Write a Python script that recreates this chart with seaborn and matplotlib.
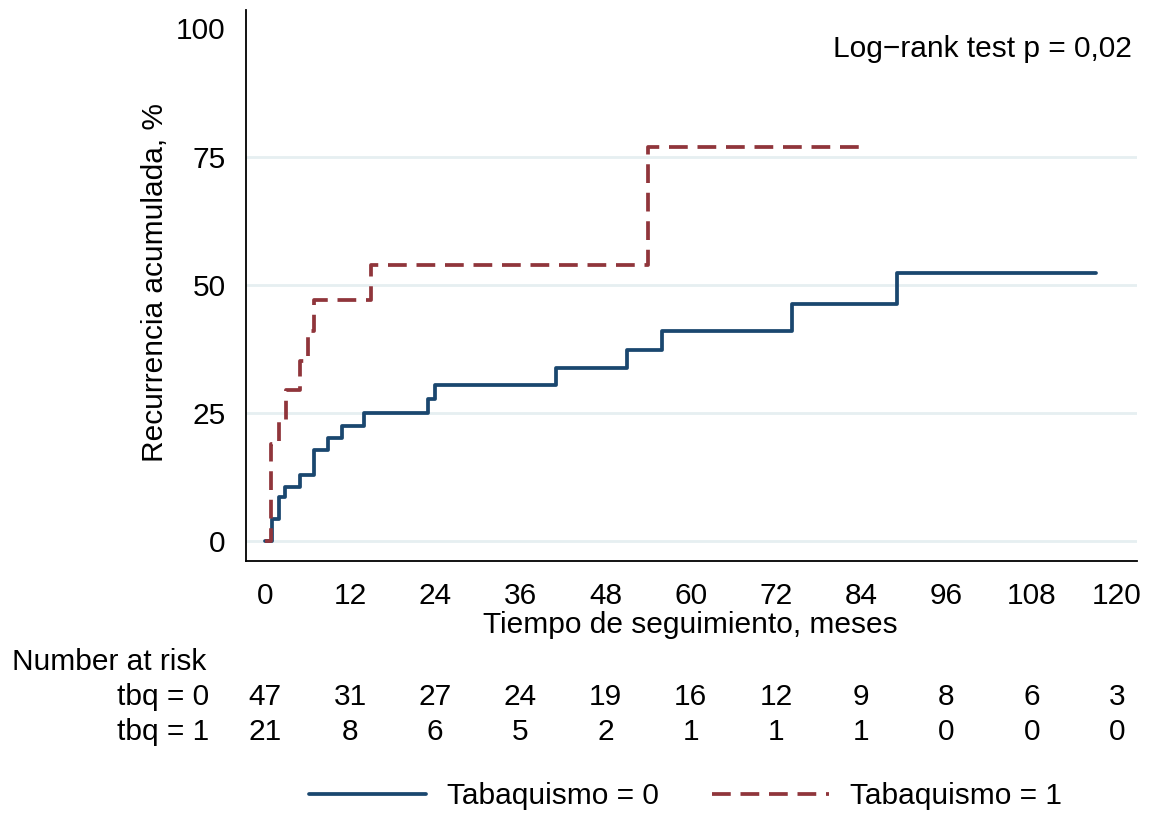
import numpy as np
import pandas as pd
import matplotlib
matplotlib.use("Agg")
import matplotlib.pyplot as plt
import matplotlib.transforms as mtransforms
import seaborn as sns

# Kaplan-Meier cumulative recurrence (1 - S(t)), in %, by smoking status
t_tbq0 = [0, 1.0, 2.0, 2.9, 5.0, 6.9, 8.9, 10.8, 13.9, 23.0, 23.9, 41.0, 51.0, 56.0, 74.2, 89.0, 117.1]
y_tbq0 = [0, 4.3, 8.5, 10.6, 12.8, 17.7, 20.1, 22.5, 25.0, 27.8, 30.4, 33.7, 37.2, 40.9, 46.3, 52.2, 52.2]
t_tbq1 = [0, 0.9, 2.0, 3.0, 4.9, 6.1, 6.9, 14.9, 54.0, 84.9]
y_tbq1 = [0, 19.0, 23.7, 29.4, 35.1, 41.0, 47.1, 53.8, 76.9, 76.9]

group_labels = ["Tabaquismo = 0", "Tabaquismo = 1"]
risk_times = [0, 12, 24, 36, 48, 60, 72, 84, 96, 108, 120]
risk_tbq0 = [47, 31, 27, 24, 19, 16, 12, 9, 8, 6, 3]
risk_tbq1 = [21, 8, 6, 5, 2, 1, 1, 1, 0, 0, 0]
risk_row_labels = ["tbq = 0", "tbq = 1"]
y_ticks = [0, 25, 50, 75, 100]

df = pd.concat([
    pd.DataFrame({"t": t_tbq0, "pct": y_tbq0, "grupo": group_labels[0]}),
    pd.DataFrame({"t": t_tbq1, "pct": y_tbq1, "grupo": group_labels[1]}),
], ignore_index=True)

sns.set_theme(style="white")
plt.rcParams["font.family"] = ["Liberation Sans", "DejaVu Sans"]
plt.rcParams["text.color"] = "black"
FS = 21.5

navy = "#1a476f"
maroon = "#90353b"

fig = plt.figure(figsize=(11.53, 8.15), dpi=100)
ax = fig.add_axes([0.2131, 0.3117, 0.9859 - 0.2131, 0.9877 - 0.3117])

sns.lineplot(
    data=df, x="t", y="pct", hue="grupo", style="grupo",
    palette={group_labels[0]: navy, group_labels[1]: maroon},
    dashes={group_labels[0]: "", group_labels[1]: (5.0, 2.6)},
    estimator=None, sort=False, drawstyle="steps-post",
    linewidth=2.7, ax=ax, legend=True,
)

ax.set_xlim(-2.7, 122.8)
ax.set_ylim(-3.9, 103.6)
ax.set_xticks(risk_times)
ax.set_yticks(y_ticks)
ax.set_xlabel("")
ax.set_ylabel("")
ax.tick_params(axis="both", which="major", direction="out", length=9, width=1.2,
               color="black", labelsize=FS, labelcolor="black", pad=6)
ax.tick_params(axis="x", pad=6.5)
ax.tick_params(axis="y", pad=5.5)
for side in ["top", "right"]:
    ax.spines[side].set_visible(False)
for side in ["left", "bottom"]:
    ax.spines[side].set_color("black")
    ax.spines[side].set_linewidth(1.3)

ax.yaxis.grid(True, color="#e6eff1", linewidth=2.0)
ax.xaxis.grid(False)
ax.set_axisbelow(True)
ax.get_ygridlines()[-1].set_visible(False)

ax.text(0.994, 0.93, "Log\u2212rank test p = 0,02", transform=ax.transAxes,
        ha="right", va="center", fontsize=FS, color="black")

fig.text(155 / 1153, 1 - 282 / 815, "Recurrencia acumulada, %", rotation=90,
         ha="center", va="center", fontsize=FS, color="black")
fig.text(690 / 1153, 1 - 625 / 815, "Tiempo de seguimiento, meses",
         ha="center", va="center", fontsize=FS, color="black")

# Number-at-risk table under the axis
trans = mtransforms.blended_transform_factory(ax.transData, fig.transFigure)
fig.text(12 / 1153, 1 - 662 / 815, "Number at risk", ha="left", va="center",
         fontsize=FS, color="black")
for row, (lab, counts) in enumerate(zip(risk_row_labels, [risk_tbq0, risk_tbq1])):
    yf = 1 - (697 + 35 * row) / 815
    fig.text(209 / 1153, yf, lab, ha="right", va="center", fontsize=FS, color="black")
    for tt, n in zip(risk_times, counts):
        ax.text(tt, yf, str(n), transform=trans, ha="center", va="center", fontsize=FS,
                color="black", clip_on=False)

handles, labels = ax.get_legend_handles_labels()
ax.get_legend().remove()
leg = fig.legend(handles, labels, loc="center", bbox_to_anchor=(0.5945, 1 - 796 / 815),
                 ncol=2, frameon=False, fontsize=FS, handlelength=3.9, handletextpad=0.7,
                 columnspacing=1.8)
for txt in leg.get_texts():
    txt.set_color("black")

fig.savefig("out.png", dpi=100)
